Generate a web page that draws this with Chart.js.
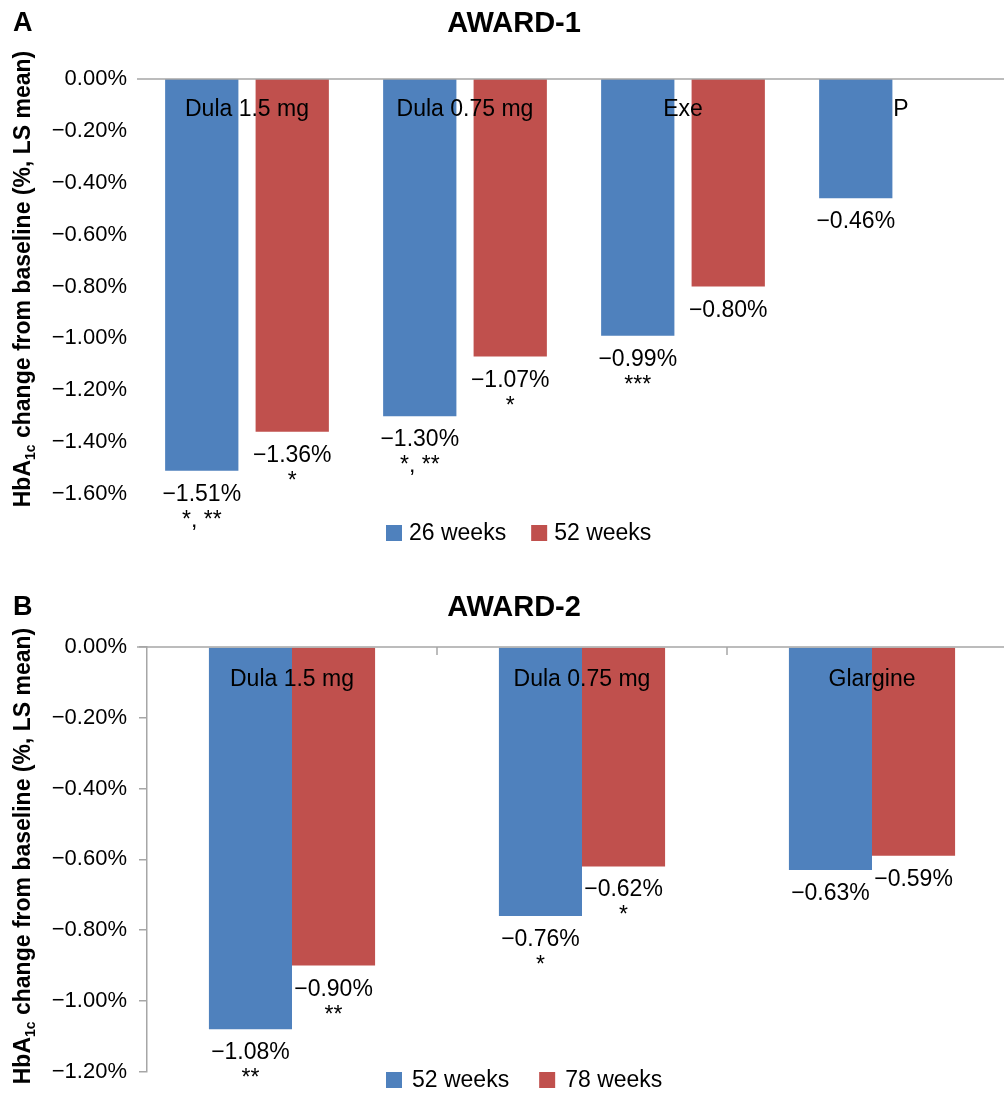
<!DOCTYPE html>
<html>
<head>
<meta charset="utf-8">
<script src="https://cdn.jsdelivr.net/npm/chart.js@4.4.1/dist/chart.umd.min.js"></script>
<style>
  html, body { margin: 0; padding: 0; background: #fff; overflow: hidden; width: 1004px; height: 1097px; }
  canvas { display: block; }
</style>
</head>
<body>
<canvas id="chartA" width="1030" height="560"></canvas>
<canvas id="chartB" width="1030" height="537"></canvas>
<script>
// ---------- Data ----------
const titleA = "AWARD-1";
const groupsA = ["Dula 1.5 mg", "Dula 0.75 mg", "Exe", "P"];
const seriesA = ["26 weeks", "52 weeks"];
const week26A = [-1.51, -1.30, -0.99, -0.46];
const week52A = [-1.36, -1.07, -0.80, null];
const stars26A = ["*, **", "*, **", "***", ""];
const stars52A = ["*", "*", "", ""];

const titleB = "AWARD-2";
const groupsB = ["Dula 1.5 mg", "Dula 0.75 mg", "Glargine"];
const seriesB = ["52 weeks", "78 weeks"];
const week52B = [-1.08, -0.76, -0.63];
const week78B = [-0.90, -0.62, -0.59];
const stars52B = ["**", "*", ""];
const stars78B = ["**", "*", ""];

const BLUE = "#4F81BD";
const RED = "#C0504D";
const AXIS_GRAY = "#a6a6a6";
const FONT = "'Liberation Sans', Arial, Helvetica, sans-serif";

function fmtPct(v) {
  const r = Math.round(v * 100) / 100;
  return (r < -1e-9 ? "\u2212" : "") + Math.abs(r).toFixed(2) + "%";
}

function makePanel(id, cfg) {
  const panelPlugin = {
    id: "panel_" + id,
    afterDatasetsDraw(chart) {
      const ctx = chart.ctx;
      const xs = chart.scales.x, ys = chart.scales.y;
      const area = chart.chartArea;
      const y0 = ys.getPixelForValue(0);
      ctx.save();
      // zero line
      ctx.strokeStyle = AXIS_GRAY;
      ctx.lineWidth = 1.5;
      ctx.beginPath();
      ctx.moveTo(cfg.zeroLineStart, y0);
      ctx.lineTo(chart.width, y0);
      ctx.stroke();
      if (cfg.boundaryTicks) {
        for (let i = 1; i < cfg.groups.length; i++) {
          const bx = (xs.getPixelForValue(i - 1) + xs.getPixelForValue(i)) / 2;
          ctx.beginPath();
          ctx.moveTo(bx, y0);
          ctx.lineTo(bx, y0 + 8);
          ctx.stroke();
        }
      }
      // category labels
      ctx.fillStyle = "#000";
      ctx.font = "23px " + FONT;
      ctx.textAlign = "center";
      ctx.textBaseline = "middle";
      cfg.groups.forEach((g, i) => {
        ctx.fillText(g, xs.getPixelForValue(i), area.top + cfg.catLabelOffset);
      });
      // value labels + stars
      ctx.textBaseline = "alphabetic";
      chart.data.datasets.forEach((ds, di) => {
        const meta = chart.getDatasetMeta(di);
        meta.data.forEach((bar, j) => {
          const v = ds.data[j];
          if (v === null || v === undefined) return;
          ctx.font = "23px " + FONT;
          ctx.fillText(fmtPct(v), bar.x, bar.y + 30);
          const s = cfg.stars[di][j];
          if (s) ctx.fillText(s, bar.x, bar.y + 56);
        });
      });
      ctx.restore();
    },
    afterDraw(chart) {
      const ctx = chart.ctx;
      ctx.save();
      ctx.fillStyle = "#000";
      // panel letter
      ctx.font = "bold 27px " + FONT;
      ctx.textAlign = "left";
      ctx.textBaseline = "middle";
      ctx.fillText(cfg.letter, 13, cfg.titleY);
      // title
      ctx.font = "bold 29px " + FONT;
      ctx.textAlign = "center";
      ctx.fillText(cfg.title, 514, cfg.titleY);
      // y axis title with subscript
      ctx.translate(30, cfg.yTitleCenter);
      ctx.rotate(-Math.PI / 2);
      const big = "bold 23px " + FONT, small = "bold 14px " + FONT;
      const parts = [["HbA", big, 0], ["1c", small, 5], [" change from baseline (%, LS mean)", big, 0]];
      let total = 0;
      parts.forEach(p => { ctx.font = p[1]; total += ctx.measureText(p[0]).width; });
      let x = -total / 2;
      ctx.textAlign = "left";
      ctx.textBaseline = "alphabetic";
      parts.forEach(p => {
        ctx.font = p[1];
        ctx.fillText(p[0], x, p[2]);
        x += ctx.measureText(p[0]).width;
      });
      ctx.restore();
      // legend
      ctx.save();
      ctx.font = "23px " + FONT;
      ctx.textBaseline = "middle";
      ctx.textAlign = "left";
      let lx = cfg.legendX;
      chart.data.datasets.forEach((ds) => {
        ctx.fillStyle = ds.backgroundColor;
        ctx.fillRect(lx, cfg.legendY - 8, 16, 16);
        ctx.fillStyle = "#000";
        ctx.fillText(ds.label, lx + 16 + cfg.legendTextGap, cfg.legendY + 1);
        lx += 16 + cfg.legendTextGap + ctx.measureText(ds.label).width + cfg.legendItemGap;
      });
      ctx.restore();
    }
  };

  return new Chart(document.getElementById(id), {
    type: "bar",
    data: {
      labels: cfg.groups,
      datasets: [
        { label: cfg.series[0], data: cfg.values[0], backgroundColor: BLUE, borderWidth: 0,
          categoryPercentage: cfg.catPct, barPercentage: cfg.barPct },
        { label: cfg.series[1], data: cfg.values[1], backgroundColor: RED, borderWidth: 0,
          categoryPercentage: cfg.catPct, barPercentage: cfg.barPct }
      ]
    },
    options: {
      responsive: false,
      animation: false,
      devicePixelRatio: 1,
      layout: { padding: cfg.padding },
      plugins: { legend: { display: false }, tooltip: { enabled: false }, title: { display: false } },
      scales: {
        x: { display: false },
        y: {
          min: cfg.yMin, max: 0,
          afterFit(scale) { scale.width = cfg.axisWidth; },
          border: { display: cfg.showYAxis, color: AXIS_GRAY, width: 1.5 },
          grid: { display: cfg.showYAxis, drawOnChartArea: false, drawTicks: cfg.showYAxis,
                  tickLength: 8, color: AXIS_GRAY, lineWidth: 1.5 },
          ticks: {
            stepSize: 0.2,
            padding: cfg.tickPadding,
            color: "#000",
            font: { family: FONT, size: 22 },
            callback: (v) => fmtPct(v)
          }
        }
      }
    },
    plugins: [panelPlugin]
  });
}

makePanel("chartA", {
  letter: "A", title: titleA, groups: groupsA, series: seriesA,
  values: [week26A, week52A], stars: [stars26A, stars52A],
  yMin: -1.6, catPct: 0.83, barPct: 0.81,
  padding: { top: 79, bottom: 66, left: 0, right: 20 },
  axisWidth: 138, showYAxis: false, tickPadding: 11,
  zeroLineStart: 137, boundaryTicks: false, catLabelOffset: 31,
  titleY: 24, yTitleCenter: 279,
  legendX: 386, legendY: 533, legendTextGap: 7, legendItemGap: 25
});

makePanel("chartB", {
  letter: "B", title: titleB, groups: groupsB, series: seriesB,
  values: [week52B, week78B], stars: [stars52B, stars78B],
  yMin: -1.2, catPct: 0.573, barPct: 1.0,
  padding: { top: 87, bottom: 22, left: 0, right: 13 },
  axisWidth: 147, showYAxis: true, tickPadding: 12,
  zeroLineStart: 137, boundaryTicks: true, catLabelOffset: 33,
  titleY: 48, yTitleCenter: 296,
  legendX: 386, legendY: 520, legendTextGap: 10, legendItemGap: 30
});
</script>
</body>
</html>
